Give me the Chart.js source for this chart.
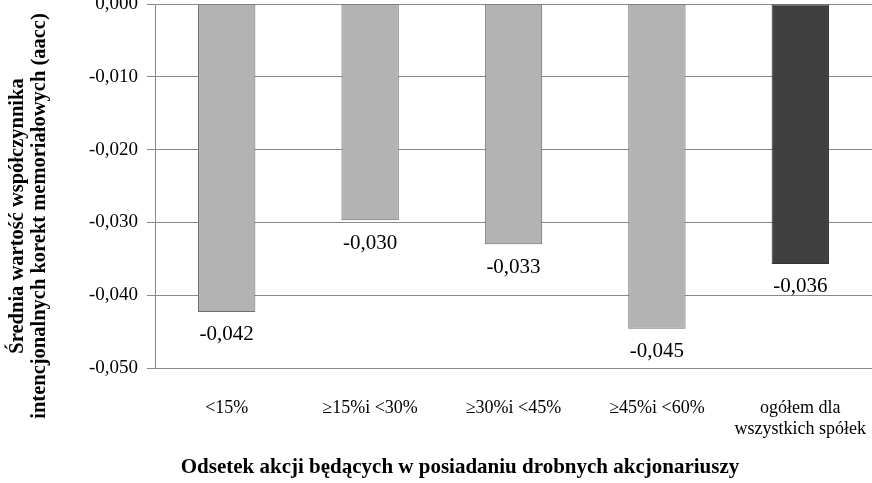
<!DOCTYPE html>
<html>
<head>
<meta charset="utf-8">
<script src="https://cdn.jsdelivr.net/npm/chart.js@4.4.1/dist/chart.umd.min.js"></script>
<style>
  body { margin: 0; background: #fff; }
  #wrap { width: 872px; height: 483px; position: relative; }
</style>
</head>
<body>
<div id="wrap"><canvas id="Cnvs"></canvas></div>
<script>
  // dane
  var categories = ['<15%', '≥15%i <30%', '≥30%i <45%', '≥45%i <60%', ['ogółem dla', 'wszystkich spółek']];
  var values = [-0.0423, -0.0297, -0.0330, -0.0446, -0.0357];
  var yTitle = ['Średnia wartość współczynnika', 'intencjonalnych korekt memoriałowych (aacc)'];
  var xTitle = 'Odsetek akcji będących w posiadaniu drobnych akcjonariuszy';

  function fmt(v) {
    return v.toFixed(3).replace('.', ',');
  }

  var SERIF = '"Liberation Serif", "Times New Roman", serif';

  var valueLabels = {
    id: 'valueLabels',
    afterDatasetsDraw: function(chart) {
      var ctx = chart.ctx;
      var meta = chart.getDatasetMeta(0);
      ctx.save();
      ctx.font = '21px ' + SERIF;
      ctx.fillStyle = '#000';
      ctx.textAlign = 'center';
      ctx.textBaseline = 'middle';
      meta.data.forEach(function(bar, i) {
        ctx.fillText(fmt(values[i]), bar.x, bar.y + 23);
      });
      ctx.restore();
    }
  };

  var axisTitles = {
    id: 'axisTitles',
    afterDraw: function(chart) {
      var ctx = chart.ctx;
      ctx.save();
      ctx.fillStyle = '#000';
      ctx.textAlign = 'center';
      ctx.textBaseline = 'middle';
      ctx.font = 'bold 21px ' + SERIF;
      ctx.fillText(xTitle, 460, 468);
      ctx.font = 'bold 20.5px ' + SERIF;
      ctx.translate(0, 216);
      ctx.rotate(-Math.PI / 2);
      ctx.fillText(yTitle[0], 0, 18);
      ctx.fillText(yTitle[1], 0, 40);
      ctx.restore();
    }
  };

  var Cnvs = document.getElementById('Cnvs').getContext('2d');
  var barChart = new Chart(Cnvs, {
    type: 'bar',
    data: {
      labels: categories,
      datasets: [{
        data: values,
        backgroundColor: values.map(function(v, i) { return i === values.length - 1 ? '#404040' : '#b3b3b3'; }),
        borderColor: values.map(function(v, i) { return i === values.length - 1 ? '#333' : '#6e6e6e'; }),
        borderWidth: 1,
        borderSkipped: false,
        categoryPercentage: 1,
        barPercentage: 0.4
      }]
    },
    options: {
      responsive: true,
      maintainAspectRatio: false,
      animation: false,
      layout: { padding: { top: 4, right: 0, left: 0, bottom: 0 } },
      plugins: {
        legend: { display: false },
        tooltip: { enabled: false }
      },
      scales: {
        x: {
          grid: { display: false },
          border: { display: true, color: '#888' },
          ticks: {
            color: '#000',
            padding: 21,
            maxRotation: 0,
            font: { family: SERIF, size: 18 }
          },
          afterFit: function(s) { s.height = 115; s.paddingLeft = 0; s.paddingRight = 0; }
        },
        y: {
          min: -0.05,
          max: 0,
          grid: { color: '#888', tickLength: 8, drawTicks: true },
          border: { display: true, color: '#888' },
          ticks: {
            stepSize: 0.01,
            color: '#000',
            padding: 9,
            font: { family: SERIF, size: 19 },
            callback: function(v) { return fmt(v); }
          },
          afterFit: function(s) { s.width = 155; s.paddingTop = 0; s.paddingBottom = 0; }
        }
      }
    },
    plugins: [valueLabels, axisTitles]
  });
</script>
</body>
</html>
